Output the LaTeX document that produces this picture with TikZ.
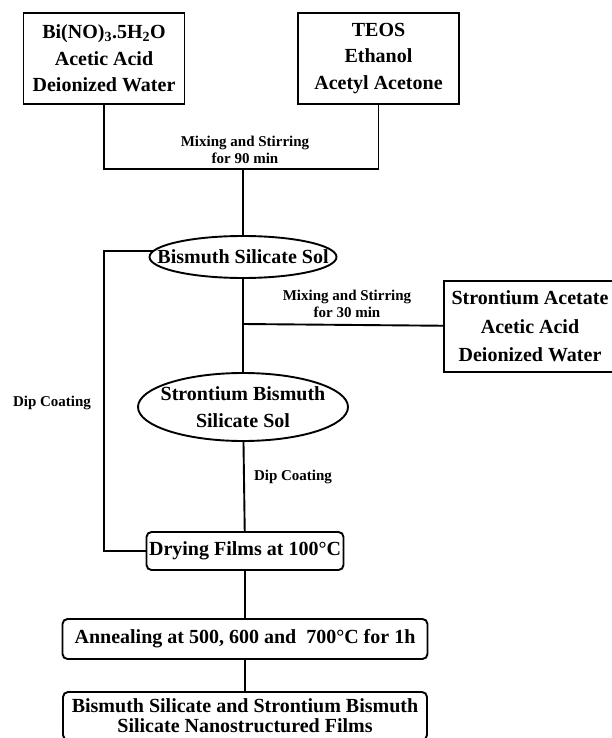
\documentclass[tikz,border=0pt]{standalone}
\usepackage{fontspec}
\setmainfont{Liberation Serif}
\usetikzlibrary{shapes.geometric}

\begin{document}
\begin{tikzpicture}
  [x=1pt,y=-1pt,line width=1.9pt,
   every node/.style={font=\bfseries\fontsize{20}{26.5}\selectfont,align=center,inner sep=0pt},
   box/.style={draw,rectangle,minimum width=161pt,minimum height=91pt},
   sol/.style={draw,ellipse},
   stage/.style={draw,rectangle,rounded corners=5pt},
   lbl/.style={font=\bfseries\fontsize{15}{17}\selectfont}]
  \useasboundingbox (0,0) rectangle (611,738);

  \node (src1)[box] at (104,58.5) {Bi(NO)\textsubscript{3}.5H\textsubscript{2}O\\Acetic Acid\\Deionized Water};
  \node (src2)[box] at (378.5,58.5) {TEOS\\Ethanol\\Acetyl Acetone};
  \node (sol1)[sol,minimum width=187pt,minimum height=42pt] at (243,257) {\makebox[0pt]{Bismuth Silicate Sol}};
  \node (src3)[box,minimum width=172pt,font=\bfseries\fontsize{20}{28.5}\selectfont] at (530,326.5) {Strontium Acetate\\Acetic Acid\\Deionized Water};
  \node (sol2)[sol,minimum width=210pt,minimum height=68pt] at (243,407) {\makebox[0pt]{Strontium Bismuth}\\\makebox[0pt]{Silicate Sol}};
  \node (dry)[stage,minimum width=197pt,minimum height=38pt] at (245,551) {Drying Films at 100°C};
  \node (anneal)[stage,minimum width=365pt,minimum height=40pt] at (245,639) {Annealing at 500, 600 and\ \ 700°C for 1h};
  \node (films)[stage,minimum width=364pt,minimum height=48pt,font=\bfseries\fontsize{20}{20}\selectfont] at (245,716) {Bismuth Silicate and Strontium Bismuth\\Silicate Nanostructured Films};

  \node (lbl1)[lbl] at (245,150) {Mixing and Stirring\\for 90 min};
  \node (lbl2)[lbl] at (347,304) {Mixing and Stirring\\for 30 min};
  \node (lbl3)[lbl] at (52,403) {Dip Coating};
  \node (lbl4)[lbl] at (293,477) {Dip Coating};

  \coordinate (mix1) at (243,169);
  \coordinate (mix2) at (243,324);
  \coordinate (loop) at (104,400);

  \draw (src1.south) |- (mix1) -| (src2.south);
  \draw (sol1.176) -| (loop) |- (dry.west);
  \foreach \from/\to in {mix1/sol1,sol1/sol2,mix2/src3,sol2/dry,dry/anneal,anneal/films}
    \draw (\from) -- (\to);

\end{tikzpicture}
\end{document}
